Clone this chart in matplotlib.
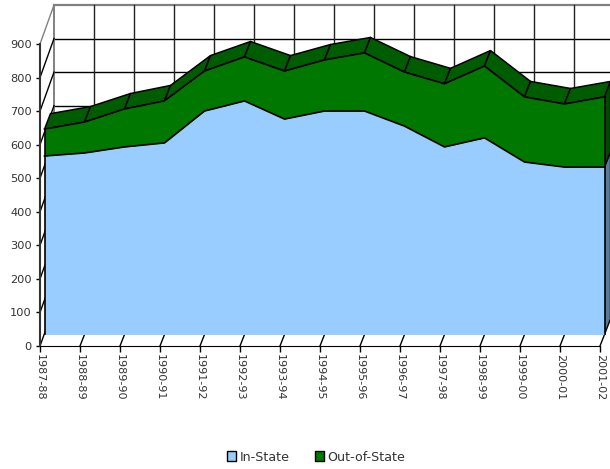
import matplotlib
matplotlib.use("Agg")
import matplotlib.pyplot as plt
import matplotlib.transforms as mtrans
import numpy as np
from matplotlib.patches import Patch, Polygon

plt.rcParams['font.family'] = ['DejaVu Sans']

years = ["1987-88", "1988-89", "1989-90", "1990-91", "1991-92", "1992-93", "1993-94", "1994-95",
         "1995-96", "1996-97", "1997-98", "1998-99", "1999-00", "2000-01", "2001-02"]
in_state = [532, 541, 559, 571, 666, 696, 642, 666, 666, 621, 559, 586, 514, 499, 499]
out_of_state = [80, 92, 113, 125, 119, 131, 143, 152, 173, 161, 188, 214, 194, 188, 209]
y_ticks = [0, 100, 200, 300, 400, 500, 600, 700, 800, 900]

# depth of the fake 3d box, in data units (40 px per category, 0.3355 px per unit)
wall_dx, wall_dy = 14 / 40, 39 / 0.3355
front_dx, front_dy = 4.5 / 40, 11.5 / 0.3355
back_dx, back_dy = 10.5 / 40, 27 / 0.3355

blue = "#99ccff"
green = "#007800"
dark_green = "#005c00"
side_green = "#004a00"
side_blue = "#5b7a99"

x = np.arange(len(years))
low = np.array(in_state)
top = low + np.array(out_of_state)

fig = plt.figure(figsize=(6.1, 4.69), dpi=100)
ax = fig.add_axes([40 / 610, (469 - 346) / 469, 560 / 610, 302 / 469])
ax.set_xlim(0, 14)
ax.set_ylim(0, 900)

# back wall grid
for v in y_ticks[1:] + [1000]:
    col = "#808080" if v == 1000 else "black"
    lw = 1.6 if v == 1000 else 1
    ax.plot([wall_dx, 14.5], [v - 100 + wall_dy, v - 100 + wall_dy], color=col, lw=lw, zorder=1, clip_on=False)
for i in x[1:]:
    ax.plot([i + wall_dx] * 2, [wall_dy, 900 + wall_dy], color="#222222", lw=1, zorder=1, clip_on=False)
ax.plot([wall_dx] * 2, [wall_dy, 900 + wall_dy], color="#808080", lw=1.4, zorder=1, clip_on=False)

# left wall diagonals
for v in y_ticks:
    col = "#808080" if v == 900 else "black"
    ax.plot([0, wall_dx], [v, v + wall_dy], color=col, lw=1, zorder=1, clip_on=False)

# floor ticks
for i in x[1:]:
    ax.plot([i, i + front_dx], [0, front_dy], color="black", lw=1, zorder=1, clip_on=False)

# top ribbon of the green series
for i in x[:-1]:
    pts = [(i + front_dx, top[i] + front_dy), (i + 1 + front_dx, top[i + 1] + front_dy),
           (i + 1 + back_dx, top[i + 1] + back_dy), (i + back_dx, top[i] + back_dy)]
    ax.add_patch(Polygon(pts, closed=True, fc=dark_green, ec="black", lw=1.1, zorder=2, clip_on=False))

# right side faces
end = x[-1]
ax.add_patch(Polygon([(end + front_dx, front_dy), (end + front_dx, low[-1] + front_dy),
                      (end + back_dx, low[-1] + back_dy), (end + back_dx, back_dy)],
                     closed=True, fc=side_blue, ec="black", lw=1, zorder=2, clip_on=False))
ax.add_patch(Polygon([(end + front_dx, low[-1] + front_dy), (end + front_dx, top[-1] + front_dy),
                      (end + back_dx, top[-1] + back_dy), (end + back_dx, low[-1] + back_dy)],
                     closed=True, fc=side_green, ec="black", lw=1, zorder=2, clip_on=False))

# front faces
xf = x + front_dx
ax.fill_between(xf, front_dy, low + front_dy, color=blue, lw=0, zorder=3, clip_on=False)
ax.fill_between(xf, low + front_dy, top + front_dy, color=green, lw=0, zorder=3, clip_on=False)
ax.plot(xf, low + front_dy, color="black", lw=1.2, zorder=4, clip_on=False)
ax.plot(xf, top + front_dy, color="black", lw=1.2, zorder=4, clip_on=False)
for i in [0, end]:
    ax.plot([xf[i], xf[i]], [front_dy, top[i] + front_dy], color="black", lw=1.2, zorder=4, clip_on=False)

ax.set_xticks(x)
ax.set_xticklabels(years, rotation=270, ha="center", va="top", fontsize=8, color="#333333")
shift = mtrans.ScaledTranslation(-2 / 100, 0, fig.dpi_scale_trans)
for lab in ax.get_xticklabels():
    lab.set_transform(lab.get_transform() + shift)
ax.set_yticks(y_ticks)
ax.tick_params(axis="y", labelsize=8.2, labelcolor="#333333", length=3, width=1, pad=3)
ax.tick_params(axis="x", length=4, width=1, pad=2)
for s in ["top", "right"]:
    ax.spines[s].set_visible(False)
ax.spines["left"].set_linewidth(1.5)
ax.spines["left"].set_color("#333333")
ax.patch.set_visible(False)

handles = [Patch(fc=blue, ec="black", lw=1, label="In-State"),
           Patch(fc=green, ec="black", lw=1, label="Out-of-State")]
fig.legend(handles=handles, ncol=2, frameon=False, fontsize=9.1, labelcolor="#333333",
           loc="center", bbox_to_anchor=(316 / 610, 1 - 457 / 469),
           handlelength=0.75, handleheight=0.75, handletextpad=0.25, columnspacing=2.0)

fig.savefig("out.png", dpi=100)
